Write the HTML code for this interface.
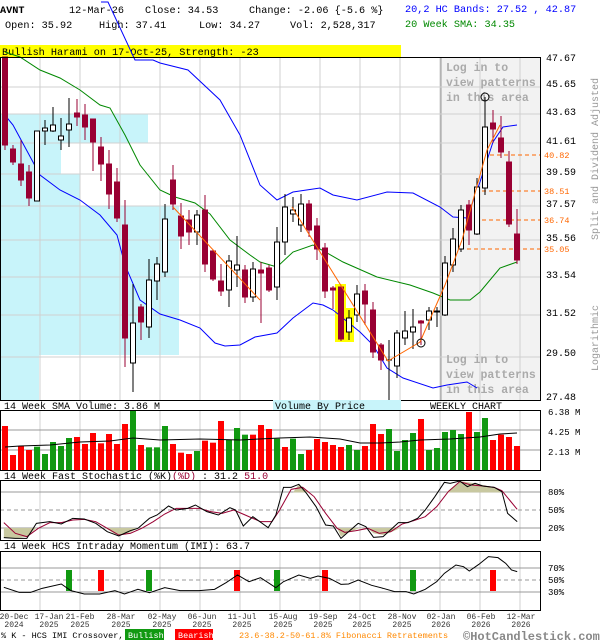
<!DOCTYPE html>
<html><head><meta charset="utf-8"><style>
html,body{margin:0;padding:0;background:#fff;}
svg{display:block;font-family:"Liberation Mono","DejaVu Sans Mono",monospace;}
</style></head><body>
<svg width="600" height="640" viewBox="0 0 600 640" xmlns="http://www.w3.org/2000/svg">
<rect width="600" height="640" fill="#fff"/>
<g font-size="10.2">
<text x="0" y="13" font-weight="bold">AVNT</text>
<text x="69" y="13">12-Mar-26</text>
<text x="145" y="13">Close: 34.53</text>
<text x="249" y="13">Change: -2.06 {-5.6 %}</text>
<text x="5" y="28">Open: 35.92</text>
<text x="99" y="28">High: 37.41</text>
<text x="199" y="28">Low: 34.27</text>
<text x="290" y="28">Vol: 2,528,317</text>
<text x="405" y="12" fill="#0000ff">20,2 HC Bands: 27.52 , 42.87</text>
<text x="405" y="27" fill="#008800">20 Week SMA: 34.35</text>
</g>
<rect x="0" y="45" width="401" height="12" fill="#ffff00"/>
<text x="2" y="55" font-size="10.2">Bullish Harami on 17-Oct-25, Strength: -23</text>

<g fill="#c8f4fa">
<rect x="1" y="114" width="147" height="29"/>
<rect x="1" y="143" width="60" height="31"/>
<rect x="1" y="174" width="79" height="32"/>
<rect x="1" y="206" width="178" height="149"/>
<rect x="1" y="355" width="38" height="45"/>
</g>
<rect x="441" y="57" width="99" height="343" fill="#f2f2f2"/>
<line x1="441" y1="57" x2="441" y2="400" stroke="#999"/>
<g stroke="#d0d0d0" stroke-width="1">
<line x1="40" y1="57" x2="40" y2="400"/><line x1="80" y1="57" x2="80" y2="400"/><line x1="120" y1="57" x2="120" y2="400"/><line x1="160" y1="57" x2="160" y2="400"/><line x1="200" y1="57" x2="200" y2="400"/><line x1="240" y1="57" x2="240" y2="400"/><line x1="280" y1="57" x2="280" y2="400"/><line x1="320" y1="57" x2="320" y2="400"/><line x1="360" y1="57" x2="360" y2="400"/><line x1="400" y1="57" x2="400" y2="400"/><line x1="440" y1="57" x2="440" y2="400"/><line x1="480" y1="57" x2="480" y2="400"/><line x1="520" y1="57" x2="520" y2="400"/>
<line x1="0" y1="87" x2="540" y2="87"/><line x1="0" y1="114" x2="540" y2="114"/><line x1="0" y1="143" x2="540" y2="143"/><line x1="0" y1="174" x2="540" y2="174"/><line x1="0" y1="206" x2="540" y2="206"/><line x1="0" y1="240" x2="540" y2="240"/><line x1="0" y1="277" x2="540" y2="277"/><line x1="0" y1="315" x2="540" y2="315"/><line x1="0" y1="357" x2="540" y2="357"/>
</g>
<g font-size="11.5" font-weight="bold" fill="#aaa">
<text x="446" y="71">Log in to</text><text x="446" y="86">view patterns</text><text x="446" y="101">in this area</text>
<text x="446" y="363">Log in to</text><text x="446" y="378">view patterns</text><text x="446" y="393">in this area</text>
</g>
<g stroke="#ff6600" stroke-dasharray="4,3">
<line x1="490" y1="155" x2="540" y2="155"/><line x1="482" y1="191" x2="540" y2="191"/><line x1="468" y1="220" x2="540" y2="220"/><line x1="460" y1="249" x2="540" y2="249"/>
</g>
<g font-size="8.5" fill="#ff6600">
<text x="544" y="158">40.82</text><text x="544" y="194">38.51</text><text x="544" y="223">36.74</text><text x="544" y="252">35.05</text>
</g>
<rect x="335" y="284" width="11" height="58" fill="#ffff00"/>
<rect x="346" y="308" width="8" height="34" fill="#ffff00"/>
<polyline fill="none" stroke="#0000ff" points="101,2 108,2 135,60 153,60 160,63 188,70 220,100 240,135 260,185 277,200 293,192 320,188 333,195 357,200 387,192 413,193 440,207 453,217 467,218 480,182 493,142 503,127 517,125"/>
<polyline fill="none" stroke="#0000ff" points="4,114 13,125 40,175 60,190 80,200 100,215 117,235 125,265 140,300 160,314 180,320 200,328 215,343 225,346 240,345 255,337 277,333 293,318 313,303 323,305 333,310 360,332 373,345 387,368 403,378 433,388 447,385 467,382 477,388"/>
<polyline fill="none" stroke="#008800" points="5,52 20,57 40,70 60,78 80,90 100,105 110,108 125,135 140,165 160,190 175,197 195,203 210,214 230,240 250,255 260,262 277,267 293,252 313,245 343,262 377,277 410,285 433,293 450,300 470,300 480,292 500,268 517,262"/>
<g stroke-width="1">
<g stroke="#990033" fill="#990033">
<line x1="5" y1="57" x2="5" y2="150"/><rect x="2.5" y="57" width="5" height="88"/>
<line x1="13" y1="145" x2="13" y2="165"/><rect x="10.5" y="149" width="5" height="13"/>
<line x1="21" y1="140" x2="21" y2="186"/><rect x="18.5" y="164" width="5" height="16"/>
<line x1="29" y1="165" x2="29" y2="206"/><rect x="26.5" y="172" width="5" height="26"/>
<line x1="77" y1="99" x2="77" y2="126"/><rect x="74.5" y="113" width="5" height="4"/>
<line x1="85" y1="104" x2="85" y2="140"/><rect x="82.5" y="115" width="5" height="12"/>
<line x1="93" y1="119" x2="93" y2="171"/><rect x="90.5" y="119" width="5" height="23"/>
<line x1="101" y1="137" x2="101" y2="181"/><rect x="98.5" y="147" width="5" height="17"/>
<line x1="109" y1="150" x2="109" y2="209"/><rect x="106.5" y="164" width="5" height="30"/>
<line x1="117" y1="168" x2="117" y2="222"/><rect x="114.5" y="182" width="5" height="36"/>
<line x1="125" y1="200" x2="125" y2="367"/><rect x="122.5" y="225" width="5" height="113"/>
<line x1="141" y1="304" x2="141" y2="340"/><rect x="138.5" y="307" width="5" height="15"/>
<line x1="173" y1="165" x2="173" y2="210"/><rect x="170.5" y="180" width="5" height="24"/>
<line x1="181" y1="203" x2="181" y2="249"/><rect x="178.5" y="216" width="5" height="20"/>
<line x1="189" y1="210" x2="189" y2="245"/><rect x="186.5" y="220" width="5" height="12"/>
<line x1="205" y1="195" x2="205" y2="272"/><rect x="202.5" y="210" width="5" height="54"/>
<line x1="213" y1="250" x2="213" y2="281"/><rect x="210.5" y="251" width="5" height="28"/>
<line x1="221" y1="264" x2="221" y2="296"/><rect x="218.5" y="281" width="5" height="10"/>
<line x1="245" y1="265" x2="245" y2="303"/><rect x="242.5" y="270" width="5" height="27"/>
<line x1="261" y1="262" x2="261" y2="323"/><rect x="258.5" y="270" width="5" height="3"/>
<line x1="269" y1="265" x2="269" y2="292"/><rect x="266.5" y="268" width="5" height="22"/>
<line x1="309" y1="200" x2="309" y2="237"/><rect x="306.5" y="204" width="5" height="26"/>
<line x1="317" y1="218" x2="317" y2="260"/><rect x="314.5" y="226" width="5" height="23"/>
<line x1="325" y1="243" x2="325" y2="298"/><rect x="322.5" y="248" width="5" height="43"/>
<line x1="333" y1="286" x2="333" y2="309"/><rect x="330.5" y="288" width="5" height="2"/>
<line x1="341" y1="287" x2="341" y2="341"/><rect x="338.5" y="287" width="5" height="52"/>
<line x1="365" y1="284" x2="365" y2="325"/><rect x="362.5" y="291" width="5" height="13"/>
<line x1="373" y1="302" x2="373" y2="358"/><rect x="370.5" y="310" width="5" height="42"/>
<line x1="381" y1="343" x2="381" y2="370"/><rect x="378.5" y="345" width="5" height="15"/>
<line x1="421" y1="320" x2="421" y2="345"/><rect x="418.5" y="321" width="5" height="2"/>
<line x1="469" y1="200" x2="469" y2="245"/><rect x="466.5" y="205" width="5" height="25"/>
<line x1="493" y1="110" x2="493" y2="143"/><rect x="490.5" y="123" width="5" height="6"/>
<line x1="501" y1="116" x2="501" y2="158"/><rect x="498.5" y="138" width="5" height="14"/>
<line x1="509" y1="151" x2="509" y2="227"/><rect x="506.5" y="162" width="5" height="62"/>
<line x1="517" y1="209" x2="517" y2="264"/><rect x="514.5" y="234" width="5" height="26"/>
</g>
<g stroke="#000" fill="#fff">
<rect x="34.5" y="131" width="5" height="70"/>
<line x1="45" y1="120" x2="45" y2="145"/><rect x="42.5" y="128" width="5" height="3"/>
<line x1="53" y1="107" x2="53" y2="132"/><rect x="50.5" y="125" width="5" height="6"/>
<line x1="61" y1="118" x2="61" y2="150"/><rect x="58.5" y="136" width="5" height="4"/>
<line x1="69" y1="98" x2="69" y2="147"/><rect x="66.5" y="124" width="5" height="6"/>
<line x1="133" y1="284" x2="133" y2="392"/><rect x="130.5" y="323" width="5" height="40"/>
<line x1="149" y1="259" x2="149" y2="338"/><rect x="146.5" y="280" width="5" height="47"/>
<line x1="157" y1="257" x2="157" y2="300"/><rect x="154.5" y="264" width="5" height="17"/>
<line x1="165" y1="204" x2="165" y2="277"/><rect x="162.5" y="219" width="5" height="53"/>
<line x1="197" y1="210" x2="197" y2="245"/><rect x="194.5" y="215" width="5" height="17"/>
<line x1="229" y1="255" x2="229" y2="307"/><rect x="226.5" y="261" width="5" height="29"/>
<line x1="237" y1="236" x2="237" y2="287"/><rect x="234.5" y="265" width="5" height="5"/>
<line x1="253" y1="262" x2="253" y2="302"/><rect x="250.5" y="269" width="5" height="28"/>
<line x1="277" y1="227" x2="277" y2="300"/><rect x="274.5" y="242" width="5" height="45"/>
<line x1="285" y1="194" x2="285" y2="255"/><rect x="282.5" y="207" width="5" height="35"/>
<line x1="293" y1="197" x2="293" y2="222"/><rect x="290.5" y="210" width="5" height="4"/>
<line x1="301" y1="194" x2="301" y2="232"/><rect x="298.5" y="204" width="5" height="21"/>
<line x1="349" y1="310" x2="349" y2="340"/><rect x="346.5" y="318" width="5" height="14"/>
<line x1="357" y1="285" x2="357" y2="322"/><rect x="354.5" y="294" width="5" height="21"/>
<line x1="389" y1="340" x2="389" y2="400"/><line x1="386" y1="360" x2="392" y2="360"/>
<line x1="397" y1="330" x2="397" y2="378"/><rect x="394.5" y="333" width="5" height="33"/>
<line x1="405" y1="311" x2="405" y2="345"/><rect x="402.5" y="331" width="5" height="7"/>
<line x1="413" y1="309" x2="413" y2="349"/><rect x="410.5" y="327" width="5" height="5"/>
<line x1="429" y1="307" x2="429" y2="330"/><rect x="426.5" y="311" width="5" height="9"/>
<line x1="437" y1="307" x2="437" y2="327"/><rect x="434.5" y="311" width="5" height="1"/>
<line x1="445" y1="256" x2="445" y2="316"/><rect x="442.5" y="263" width="5" height="52"/>
<line x1="453" y1="228" x2="453" y2="272"/><rect x="450.5" y="239" width="5" height="26"/>
<line x1="461" y1="205" x2="461" y2="252"/><rect x="458.5" y="210" width="5" height="39"/>
<line x1="477" y1="178" x2="477" y2="235"/><rect x="474.5" y="187" width="5" height="47"/>
<line x1="485" y1="97" x2="485" y2="195"/><rect x="482.5" y="127" width="5" height="61"/>
</g>
</g>
<polyline fill="none" stroke="#ff6600" points="173,207 260,300"/>
<polyline fill="none" stroke="#ff6600" points="292,207 388,361 420,342 445,285 462,240 487,150 500,125"/>
<circle cx="485" cy="97" r="4" fill="none" stroke="#000"/>
<circle cx="421" cy="343" r="4" fill="none" stroke="#000"/>
<rect x="0.5" y="57.5" width="540" height="343" fill="none" stroke="#000"/>
<g font-size="10">
<text x="546" y="61">47.67</text><text x="546" y="87">45.65</text><text x="546" y="115">43.63</text><text x="546" y="144">41.61</text><text x="546" y="175">39.59</text><text x="546" y="207">37.57</text><text x="546" y="241">35.56</text><text x="546" y="278">33.54</text><text x="546" y="316">31.52</text><text x="546" y="356">29.50</text><text x="546" y="400">27.48</text>
</g>
<g font-size="10" fill="#999">
<text transform="translate(598,159) rotate(-90)" text-anchor="middle">Split and Dividend Adjusted</text>
<text transform="translate(598,338) rotate(-90)" text-anchor="middle">Logarithmic</text>
</g>

<rect x="273" y="400" width="128" height="10" fill="#c8f4fa"/>
<g font-size="10">
<text x="4" y="409">14 Week SMA Volume: 3.86 M</text>
<text x="275" y="409">Volume By Price</text>
<text x="430" y="409">WEEKLY CHART</text>
</g>
<g stroke="#d0d0d0">
<line x1="40" y1="410" x2="40" y2="470"/><line x1="80" y1="410" x2="80" y2="470"/><line x1="120" y1="410" x2="120" y2="470"/><line x1="160" y1="410" x2="160" y2="470"/><line x1="200" y1="410" x2="200" y2="470"/><line x1="240" y1="410" x2="240" y2="470"/><line x1="280" y1="410" x2="280" y2="470"/><line x1="320" y1="410" x2="320" y2="470"/><line x1="360" y1="410" x2="360" y2="470"/><line x1="400" y1="410" x2="400" y2="470"/><line x1="440" y1="410" x2="440" y2="470"/><line x1="480" y1="410" x2="480" y2="470"/><line x1="520" y1="410" x2="520" y2="470"/>
</g>
<g stroke="#999"><line x1="0" y1="430" x2="540" y2="430"/><line x1="0" y1="450" x2="540" y2="450"/></g>
<g transform="translate(0,400) scale(1,0.33333)">
<g fill="#ff0000">
<rect x="2" y="78" width="6" height="132"/><rect x="10" y="165" width="6" height="45"/><rect x="18" y="138" width="6" height="72"/><rect x="26" y="150" width="6" height="60"/>
<rect x="74" y="111" width="6" height="99"/><rect x="82" y="132" width="6" height="78"/><rect x="90" y="99" width="6" height="111"/><rect x="98" y="130" width="6" height="80"/><rect x="106" y="102" width="6" height="108"/><rect x="114" y="132" width="6" height="78"/><rect x="122" y="72" width="6" height="138"/>
<rect x="138" y="135" width="6" height="75"/><rect x="170" y="132" width="6" height="78"/><rect x="178" y="158" width="6" height="52"/><rect x="186" y="162" width="6" height="48"/><rect x="202" y="122" width="6" height="88"/><rect x="210" y="128" width="6" height="82"/><rect x="218" y="63" width="6" height="147"/>
<rect x="250" y="104" width="6" height="106"/><rect x="258" y="75" width="6" height="135"/><rect x="266" y="87" width="6" height="123"/><rect x="282" y="141" width="6" height="69"/>
<rect x="306" y="150" width="6" height="60"/><rect x="314" y="117" width="6" height="93"/><rect x="322" y="126" width="6" height="84"/><rect x="330" y="135" width="6" height="75"/><rect x="338" y="141" width="6" height="69"/>
<rect x="362" y="138" width="6" height="72"/><rect x="370" y="72" width="6" height="138"/><rect x="378" y="102" width="6" height="108"/>
<rect x="418" y="57" width="6" height="153"/><rect x="466" y="36" width="6" height="174"/><rect x="490" y="120" width="6" height="90"/><rect x="498" y="104" width="6" height="106"/><rect x="506" y="111" width="6" height="99"/><rect x="514" y="138" width="6" height="72"/>
</g>
<g fill="#119911">
<rect x="34" y="140" width="6" height="70"/><rect x="42" y="162" width="6" height="48"/><rect x="50" y="126" width="6" height="84"/><rect x="58" y="138" width="6" height="72"/><rect x="66" y="114" width="6" height="96"/>
<rect x="130" y="32" width="6" height="178"/><rect x="146" y="142" width="6" height="68"/><rect x="154" y="142" width="6" height="68"/><rect x="162" y="78" width="6" height="132"/><rect x="194" y="153" width="6" height="57"/>
<rect x="226" y="119" width="6" height="91"/><rect x="234" y="84" width="6" height="126"/><rect x="242" y="104" width="6" height="106"/><rect x="274" y="116" width="6" height="94"/><rect x="290" y="116" width="6" height="94"/><rect x="298" y="162" width="6" height="48"/>
<rect x="346" y="135" width="6" height="75"/><rect x="354" y="150" width="6" height="60"/><rect x="386" y="87" width="6" height="123"/><rect x="394" y="153" width="6" height="57"/><rect x="402" y="120" width="6" height="90"/><rect x="410" y="99" width="6" height="111"/>
<rect x="426" y="150" width="6" height="60"/><rect x="434" y="144" width="6" height="66"/><rect x="442" y="96" width="6" height="114"/><rect x="450" y="90" width="6" height="120"/><rect x="458" y="102" width="6" height="108"/><rect x="474" y="96" width="6" height="114"/><rect x="482" y="54" width="6" height="156"/>
</g>
</g>
<polyline fill="none" stroke="#000" points="5,447 20,446 50,445 80,442 110,441 133,438 160,440 200,439 240,440 280,438 310,437 340,439 360,443 380,443 400,442 420,440 450,439 480,437 500,434 517,433"/>
<rect x="0.5" y="410.5" width="540" height="60" fill="none" stroke="#000"/>
<g font-size="9"><text x="548" y="415">6.38 M</text><text x="548" y="435">4.25 M</text><text x="548" y="455">2.13 M</text></g>

<text x="4" y="479" font-size="10">14 Week Fast Stochastic (%K)<tspan fill="#990033">(%D)</tspan> : 31.2 <tspan fill="#990033">51.0</tspan></text>
<g stroke="#d0d0d0">
<line x1="40" y1="480" x2="40" y2="540"/><line x1="80" y1="480" x2="80" y2="540"/><line x1="120" y1="480" x2="120" y2="540"/><line x1="160" y1="480" x2="160" y2="540"/><line x1="200" y1="480" x2="200" y2="540"/><line x1="240" y1="480" x2="240" y2="540"/><line x1="280" y1="480" x2="280" y2="540"/><line x1="320" y1="480" x2="320" y2="540"/><line x1="360" y1="480" x2="360" y2="540"/><line x1="400" y1="480" x2="400" y2="540"/><line x1="440" y1="480" x2="440" y2="540"/><line x1="480" y1="480" x2="480" y2="540"/><line x1="520" y1="480" x2="520" y2="540"/>
</g>
<g stroke="#999"><line x1="0" y1="492" x2="540" y2="492"/><line x1="0" y1="528" x2="540" y2="528"/><line x1="0" y1="510" x2="540" y2="510" stroke-dasharray="4,3"/></g>
<g transform="translate(0,400) scale(0.3831,0.33333)">
<g fill="#c8c8a0">
<polygon points="10,384 10,413 40,415 70,410 95,384"/>
<polygon points="275,384 300,402 320,405 340,397 360,384"/>
<polygon points="765,277 780,253 800,270 810,277"/>
<polygon points="880,384 890,410 910,397 935,386 960,384"/>
<polygon points="960,384 975,400 1000,405 1020,397 1045,384"/>
<polygon points="1165,277 1200,243 1240,250 1290,262 1310,277"/>
</g>
<polyline fill="none" stroke="#990033" vector-effect="non-scaling-stroke" points="10,368 40,400 70,410 100,385 130,368 160,368 190,360 220,358 250,365 280,385 310,405 340,400 370,385 400,365 430,342 460,325 490,325 520,325 550,335 580,340 610,330 640,345 680,365 710,365 730,330 760,268 790,262 820,290 850,340 880,385 900,397 930,392 960,385 990,400 1020,395 1050,372 1080,362 1110,350 1140,320 1170,275 1200,245 1230,255 1260,258 1290,262 1310,272 1330,300 1350,328"/>
<polyline fill="none" stroke="#000" vector-effect="non-scaling-stroke" points="10,413 40,415 70,415 95,370 130,365 160,372 190,355 220,357 250,370 280,395 310,408 340,392 360,385 390,355 410,345 440,318 460,330 490,325 510,315 540,335 570,345 600,323 615,330 635,378 660,350 700,383 720,345 740,262 760,262 780,253 800,280 825,320 850,375 870,378 890,415 910,395 935,370 955,380 975,412 1000,410 1040,368 1065,368 1090,355 1110,330 1135,290 1160,247 1175,250 1200,243 1220,260 1240,250 1260,258 1290,262 1310,275 1325,340 1350,365"/>
</g>
<rect x="0.5" y="480.5" width="540" height="60" fill="none" stroke="#000"/>
<g font-size="9"><text x="548" y="495">80%</text><text x="548" y="513">50%</text><text x="548" y="531">20%</text></g>

<text x="4" y="549" font-size="10">14 Week HCS Intraday Momentum (IMI): 63.7</text>
<g stroke="#d0d0d0">
<line x1="40" y1="551" x2="40" y2="610"/><line x1="80" y1="551" x2="80" y2="610"/><line x1="120" y1="551" x2="120" y2="610"/><line x1="160" y1="551" x2="160" y2="610"/><line x1="200" y1="551" x2="200" y2="610"/><line x1="240" y1="551" x2="240" y2="610"/><line x1="280" y1="551" x2="280" y2="610"/><line x1="320" y1="551" x2="320" y2="610"/><line x1="360" y1="551" x2="360" y2="610"/><line x1="400" y1="551" x2="400" y2="610"/><line x1="440" y1="551" x2="440" y2="610"/><line x1="480" y1="551" x2="480" y2="610"/><line x1="520" y1="551" x2="520" y2="610"/>
</g>
<g stroke="#999"><line x1="0" y1="568" x2="540" y2="568"/><line x1="0" y1="592" x2="540" y2="592"/><line x1="0" y1="580" x2="540" y2="580" stroke-dasharray="4,3"/></g>
<g>
<rect x="66" y="570" width="6" height="21" fill="#119911"/>
<rect x="98" y="570" width="6" height="21" fill="#ff0000"/>
<rect x="146" y="570" width="6" height="21" fill="#119911"/>
<rect x="234" y="570" width="6" height="21" fill="#ff0000"/>
<rect x="274" y="570" width="6" height="21" fill="#119911"/>
<rect x="322" y="570" width="6" height="21" fill="#ff0000"/>
<rect x="410" y="570" width="6" height="21" fill="#119911"/>
<rect x="490" y="570" width="6" height="21" fill="#ff0000"/>
</g>
<g transform="translate(0,400) scale(0.3831,0.33333)">
<polyline fill="none" stroke="#000" vector-effect="non-scaling-stroke" points="10,562 50,577 80,577 110,565 160,552 185,572 220,582 260,582 300,572 325,582 360,568 390,578 430,563 470,572 520,572 560,568 590,548 620,525 650,545 680,533 720,563 740,545 780,525 810,535 830,528 860,535 890,553 910,552 935,540 970,556 1000,565 1030,575 1060,575 1080,582 1110,568 1140,545 1160,520 1190,495 1210,500 1225,513 1250,493 1275,470 1300,473 1320,490 1335,510 1350,515"/>
</g>
<rect x="0.5" y="551.5" width="540" height="59" fill="none" stroke="#000"/>
<g font-size="9"><text x="548" y="571">70%</text><text x="548" y="583">50%</text><text x="548" y="595">30%</text></g>

<g font-size="8" text-anchor="middle" fill="#333">
<text x="14" y="619">20-Dec</text><text x="14" y="627">2024</text>
<text x="49" y="619">17-Jan</text><text x="49" y="627">2025</text>
<text x="80" y="619">21-Feb</text><text x="80" y="627">2025</text>
<text x="121" y="619">28-Mar</text><text x="121" y="627">2025</text>
<text x="162" y="619">02-May</text><text x="162" y="627">2025</text>
<text x="202" y="619">06-Jun</text><text x="202" y="627">2025</text>
<text x="242" y="619">11-Jul</text><text x="242" y="627">2025</text>
<text x="283" y="619">15-Aug</text><text x="283" y="627">2025</text>
<text x="323" y="619">19-Sep</text><text x="323" y="627">2025</text>
<text x="362" y="619">24-Oct</text><text x="362" y="627">2025</text>
<text x="402" y="619">28-Nov</text><text x="402" y="627">2025</text>
<text x="441" y="619">02-Jan</text><text x="441" y="627">2026</text>
<text x="481" y="619">06-Feb</text><text x="481" y="627">2026</text>
<text x="521" y="619">12-Mar</text><text x="521" y="627">2026</text>
</g>
<text x="1" y="638" font-size="8.5">% K - HCS IMI Crossover,</text>
<rect x="125" y="629" width="39" height="11" fill="#119911"/>
<text x="128" y="638" font-size="8.5" fill="#fff">Bullish</text>
<rect x="175" y="629" width="38" height="11" fill="#ff0000"/>
<text x="178" y="638" font-size="8.5" fill="#fff">Bearish</text>
<text x="239" y="638" font-size="8.5" fill="#ff8800">23.6-38.2-50-61.8% Fibonacci Retratements</text>
<text x="463" y="640" font-size="12" font-weight="bold" fill="#888">©HotCandlestick.com</text>
</svg>
</body></html>
